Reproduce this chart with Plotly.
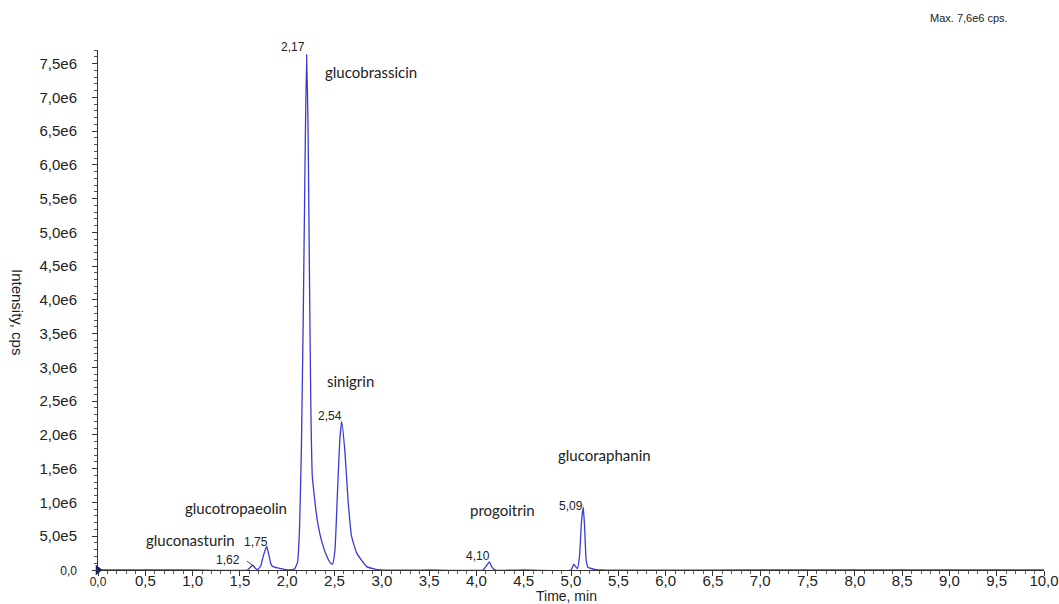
import plotly.graph_objects as go

# ---- chromatogram trace ----
time_min = [0.0, 1.0, 1.58, 1.61, 1.638, 1.66, 1.69, 1.72, 1.75, 1.783, 1.81, 1.83, 1.85, 1.90,
            1.97, 2.03, 2.08, 2.11, 2.13, 2.15, 2.17, 2.19, 2.205, 2.22, 2.235, 2.25, 2.265,
            2.29, 2.32, 2.36, 2.42, 2.46, 2.48, 2.505, 2.53, 2.555, 2.576, 2.61, 2.645, 2.68,
            2.735, 2.84, 2.98, 3.5, 4.07, 4.10, 4.137, 4.165, 4.20, 4.5, 5.00, 5.03, 5.067,
            5.09, 5.11, 5.13, 5.145, 5.16, 5.18, 5.25, 5.35, 7.0, 10.0]
intensity_cps = [0.0, 0.0, 0.0, 0.04e6, 0.07e6, 0.03e6, 0.01e6, 0.06e6, 0.22e6, 0.35e6, 0.2e6,
                 0.08e6, 0.05e6, 0.03e6, 0.01e6, 0.0, 0.02e6, 0.12e6, 0.6e6, 1.8e6, 3.8e6,
                 6.2e6, 7.63e6, 6.6e6, 4.4e6, 2.4e6, 1.4e6, 1.05e6, 0.72e6, 0.45e6, 0.2e6,
                 0.1e6, 0.09e6, 0.3e6, 1.1e6, 1.9e6, 2.2e6, 1.75e6, 1.0e6, 0.5e6, 0.25e6,
                 0.05e6, 0.0, 0.0, 0.0, 0.05e6, 0.12e6, 0.04e6, 0.0, 0.0, 0.0, 0.085e6, 0.02e6,
                 0.2e6, 0.7e6, 0.93e6, 0.6e6, 0.15e6, 0.04e6, 0.01e6, 0.0, 0.0, 0.0]

# ---- axis ticks ----
x_tickvals = [i * 0.5 for i in range(21)]
x_ticktext = ['<span style="font-size:12px">0,0</span>'] + \
             [f"{v:.1f}".replace(".", ",") for v in x_tickvals[1:]]
y_tickvals = [i * 0.5e6 for i in range(16)]
y_ticktext = ['<span style="font-size:12px">0,0</span>', "5,0e5"] + \
             [f"{v/1e6:.1f}e6".replace(".", ",") for v in y_tickvals[2:]]

# ---- labels ----
rt_labels = ["2,17", "1,75", "1,62", "2,54", "4,10", "5,09"]
rt_x = [2.061, 1.670, 1.374, 2.452, 4.017, 5.000]
rt_y = [7.75e6, 0.415e6, 0.148e6, 2.28e6, 0.207e6, 0.948e6]

compound_names = ["glucobrassicin", "sinigrin", "glucotropaeolin", "gluconasturin",
                  "progoitrin", "glucoraphanin"]
compound_x = [2.886, 2.664, 1.459, 0.973, 4.271, 5.359]
compound_y = [7.38e6, 2.80e6, 0.92e6, 0.44e6, 0.89e6, 1.70e6]

L, R, T, B, W, H = 98, 15, 50, 34, 1059, 604
PW, PH = W - L - R, H - T - B
Y_MAX = 7.7e6

fig = go.Figure()
fig.add_trace(go.Scatter(x=time_min, y=intensity_cps, mode="lines",
                         line=dict(color="#3a3ad2", width=1.3, shape="spline", smoothing=0.4),
                         hoverinfo="skip", showlegend=False))
# origin marker
fig.add_trace(go.Scatter(x=[0.0], y=[0.0], mode="markers",
                         marker=dict(symbol="triangle-right", size=9, color="#0a1a6e"),
                         cliponaxis=False, hoverinfo="skip", showlegend=False))

annotations = []
for t, x, y in zip(rt_labels, rt_x, rt_y):
    annotations.append(dict(x=x, y=y / Y_MAX, xref="x", yref="paper", text=t, showarrow=False,
                            xanchor="center", yanchor="middle",
                            font=dict(family="Liberation Sans, Arial", size=12, color="#222")))
for t, x, y in zip(compound_names, compound_x, compound_y):
    annotations.append(dict(x=x, y=y, xref="x", yref="y", text=t, showarrow=False,
                            xanchor="center", yanchor="middle",
                            font=dict(family="Lato, Open Sans", size=15, color="#222")))
annotations.append(dict(x=(969 - L) / PW, y=1 + (T - 18) / PH, xref="paper", yref="paper",
                        text="Max. 7,6e6 cps.", showarrow=False,
                        xanchor="center", yanchor="middle",
                        font=dict(family="Liberation Sans, Arial", size=11, color="#222")))
# axis titles
annotations.append(dict(x=(566 - L) / PW, y=-(595.5 - (H - B)) / PH, xref="paper", yref="paper",
                        text="Time, min", showarrow=False, xanchor="center", yanchor="middle",
                        font=dict(family="Liberation Sans, Arial", size=14, color="#222")))
annotations.append(dict(x=-(L - 18) / PW, y=1 - (312 - T) / PH, xref="paper", yref="paper",
                        text="Intensity, cps", showarrow=False, textangle=90,
                        xanchor="center", yanchor="middle",
                        font=dict(family="Liberation Sans, Arial", size=15, color="#222")))

fig.update_layout(
    width=W, height=H,
    margin=dict(l=L, r=R, t=T, b=B, autoexpand=False),
    paper_bgcolor="white", plot_bgcolor="white",
    annotations=annotations,
    shapes=[dict(type="line", xref="x", yref="y", x0=1.575, y0=0.13e6, x1=1.66, y1=0.045e6,
                 line=dict(color="#444", width=1))],
    xaxis=dict(range=[0, 10.0], tickvals=x_tickvals, ticktext=x_ticktext, automargin=False,
               showgrid=False, zeroline=False, showline=True, linecolor="#333", linewidth=1,
               ticks="outside", ticklen=5, tickcolor="#333", ticklabelstandoff=-8,
               minor=dict(dtick=0.1, ticklen=3, ticks="outside", tickcolor="#555", showgrid=False),
               tickfont=dict(family="Liberation Sans, Arial", size=15, color="#222")),
    yaxis=dict(range=[0, Y_MAX], tickvals=y_tickvals, ticktext=y_ticktext, automargin=False,
               showgrid=False, zeroline=False, showline=True, linecolor="#333", linewidth=1,
               ticks="outside", ticklen=5, tickcolor="#333", ticklabelstandoff=12,
               minor=dict(dtick=0.1e6, ticklen=3, ticks="outside", tickcolor="#555", showgrid=False),
               tickfont=dict(family="Liberation Sans, Arial", size=15, color="#222")),
)
fig.write_html("out.html")
